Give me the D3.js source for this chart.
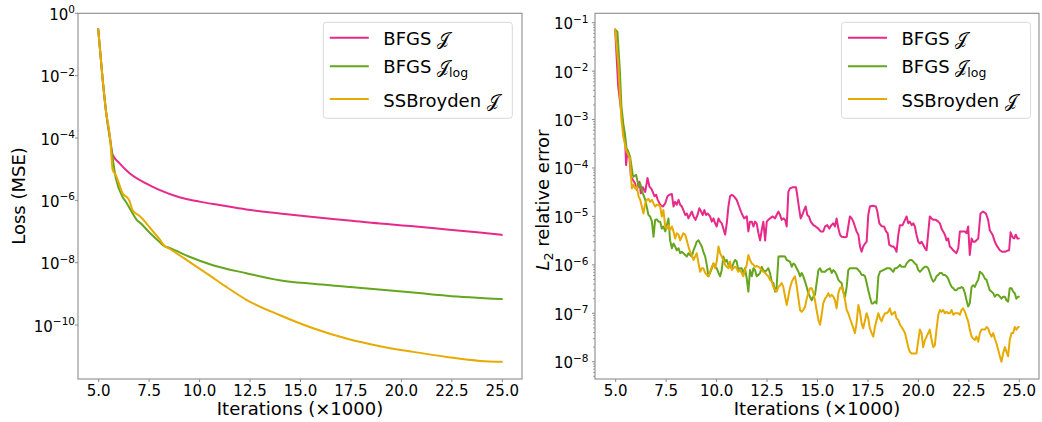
<!DOCTYPE html>
<html><head><meta charset="utf-8">
<script src="https://cdn.jsdelivr.net/npm/d3@7"></script>
<style>
body{margin:0;background:#fff}
svg{display:block}
text{font-family:"DejaVu Sans",sans-serif;fill:#000}
</style>
</head><body>
<svg id="chart" width="1042" height="422"></svg>
<script>
// ---------- categories / tick labels ----------
const xTickValues = [5, 7.5, 10, 12.5, 15, 17.5, 20, 22.5, 25];
const xTickLabels = ["5.0","7.5","10.0","12.5","15.0","17.5","20.0","22.5","25.0"];
const lossTickExponents = [0, -2, -4, -6, -8, -10];
const errTickExponents = [-1, -2, -3, -4, -5, -6, -7, -8];
const legendNames = ["BFGS ", "BFGS ", "SSBroyden "];
const legendSubs = ["", "log", ""];
const seriesColors = ["#e7298a", "#66a61e", "#e6ab02"];

// ---------- left panel: Loss (MSE), [iterations x1000, value] ----------
const lossBfgs = [[5.0,0.316],[5.21,9.1e-3],[5.38,7.9e-4],[5.6,8.7e-5],[5.71,3.0e-5],[6.04,1.6e-5],[6.54,7.6e-6],[7.37,3.5e-6],[8.0,2.2e-6],[9.02,1.26e-6],
  [10.02,9.1e-7],[11.0,7.1e-7],[12.34,5.1e-7],[14.0,3.8e-7],[15.65,2.9e-7],[17.3,2.3e-7],[18.96,1.8e-7],[20.61,1.48e-7],[22.27,1.17e-7],[23.9,9.3e-8],[25.0,7.8e-8]];
const lossBfgsLog = [[5.0,0.316],[5.21,9.1e-3],[5.38,7.9e-4],[5.6,7.9e-5],[5.88,5.0e-6],[6.21,1.29e-6],[6.38,8.9e-7],[6.70,3.9e-7],[6.95,2.2e-7],[7.04,2.0e-7],
  [7.53,9.5e-8],[8.03,4.7e-8],[8.28,3.4e-8],[8.53,3.0e-8],[9.52,1.55e-8],[10.68,8.3e-9],[12.34,4.6e-9],[13.98,2.75e-9],[15.65,2.1e-9],[17.3,1.7e-9],
  [20.61,1.1e-9],[22.27,8.7e-10],[25.0,6.8e-10]];
const lossSsb = [[5.0,0.316],[5.21,9.1e-3],[5.38,7.9e-4],[5.6,8.7e-5],[5.71,1.0e-5],[5.88,6.3e-6],[6.21,1.7e-6],[6.54,1.0e-6],[6.70,4.9e-7],[7.04,3.2e-7],
  [7.37,1.9e-7],[7.53,1.4e-7],[8.03,5.8e-8],[8.28,3.5e-8],[8.53,2.8e-8],[9.52,1.07e-8],[10.5,4.0e-9],[11.33,1.7e-9],[12.32,6.6e-10],[13.98,2.1e-10],
  [15.65,7.9e-11],[17.3,3.7e-11],[18.96,2.1e-11],[20.61,1.38e-11],[22.27,9.5e-12],[23.93,7.1e-12],[25.0,6.6e-12]];

// ---------- right panel: L2 relative error, [iterations x1000, value] ----------
const errBfgs = [
  [5.0,7.2e-2],[5.15,4.8e-3],[5.35,1.0e-3],[5.50,3.2e-4],[5.54,1.15e-4],[5.61,2.3e-4],[5.71,1.6e-4],[5.78,6.6e-5],[5.99,4.8e-5],[6.07,3.5e-5],
  [6.20,5.2e-5],[6.27,3.0e-5],[6.37,4.0e-5],[6.49,3.2e-5],[6.60,6.2e-5],[6.70,4.1e-5],[6.78,3.8e-5],[6.86,3.2e-5],[6.95,2.6e-5],[7.03,2.8e-5],
  [7.11,2.2e-5],[7.23,1.74e-5],[7.36,1.6e-5],[7.48,1.86e-5],[7.59,2.6e-5],[7.69,2.8e-5],[7.81,2.9e-5],[7.89,1.6e-5],[7.97,2.0e-5],[8.05,1.74e-5],
  [8.14,2.2e-5],[8.22,1.74e-5],[8.30,1.6e-5],[8.38,1.35e-5],[8.47,1.07e-5],[8.55,1.15e-5],[8.63,9.1e-6],[8.71,1.07e-5],[8.80,1.26e-5],[8.88,1.0e-5],
  [8.98,8.5e-6],[9.08,1.07e-5],[9.17,1.48e-5],[9.26,1.26e-5],[9.34,1.07e-5],[9.42,1.35e-5],[9.50,1.07e-5],[9.59,1.15e-5],[9.70,1.0e-5],[9.79,7.8e-6],
  [9.87,9.1e-6],[9.95,7.2e-6],[10.03,6.2e-6],[10.12,9.1e-6],[10.20,7.8e-6],[10.28,7.2e-6],[10.36,5.6e-6],[10.45,4.2e-6],[10.53,7.2e-6],[10.61,1.6e-5],
  [10.69,2.6e-5],[10.78,2.8e-5],[10.89,2.6e-5],[11.02,2.2e-5],[11.14,1.6e-5],[11.27,1.15e-5],[11.39,9.1e-6],[11.52,1.0e-5],[11.60,4.9e-6],[11.68,7.8e-6],
  [11.77,7.8e-6],[11.85,6.2e-6],[11.93,7.8e-6],[12.01,7.2e-6],[12.10,4.5e-6],[12.18,3.2e-6],[12.26,5.2e-6],[12.34,7.8e-6],[12.43,3.2e-6],[12.51,7.8e-6],
  [12.59,8.5e-6],[12.67,9.1e-6],[12.81,1.0e-5],[12.92,9.1e-6],[13.00,1.07e-5],[13.09,1.26e-5],[13.17,1.07e-5],[13.25,8.5e-6],[13.33,9.1e-6],[13.42,8.5e-6],
  [13.50,6.2e-6],[13.58,3.2e-5],[13.66,3.8e-5],[13.80,4.0e-5],[13.96,4.0e-5],[14.03,2.6e-5],[14.11,1.48e-5],[14.19,9.1e-6],[14.27,1.07e-5],[14.36,1.35e-5],
  [14.44,1.6e-5],[14.52,1.07e-5],[14.60,1.0e-5],[14.69,7.8e-6],[14.82,6.6e-6],[14.93,6.2e-6],[15.07,5.6e-6],[15.18,4.9e-6],[15.31,4.9e-6],[15.40,6.2e-6],
  [15.51,6.6e-6],[15.61,5.6e-6],[15.71,6.6e-6],[15.81,7.2e-6],[15.89,6.2e-6],[15.97,9.1e-6],[16.06,5.6e-6],[16.14,4.2e-6],[16.22,3.8e-6],[16.39,3.7e-6],
  [16.47,3.8e-6],[16.55,6.2e-6],[16.63,1.0e-5],[16.72,9.1e-6],[16.80,7.8e-6],[16.88,6.2e-6],[16.96,4.9e-6],[17.05,4.2e-6],[17.13,2.4e-6],[17.21,1.86e-6],
  [17.29,2.4e-6],[17.38,2.75e-6],[17.46,3.0e-6],[17.54,1.07e-5],[17.62,1.6e-5],[17.76,1.66e-5],[17.92,1.6e-5],[17.99,1.26e-5],[18.09,7.2e-6],[18.20,6.3e-6],
  [18.32,6.2e-6],[18.42,4.9e-6],[18.50,4.5e-6],[18.58,2.6e-6],[18.70,2.4e-6],[18.78,2.4e-6],[18.86,2.2e-6],[18.94,1.86e-6],[19.03,4.2e-6],[19.11,6.6e-6],
  [19.24,6.6e-6],[19.36,8.5e-6],[19.44,1.0e-5],[19.52,7.2e-6],[19.60,7.8e-6],[19.69,6.6e-6],[19.77,7.2e-6],[19.85,6.2e-6],[19.93,4.2e-6],[20.02,3.0e-6],
  [20.10,2.75e-6],[20.18,3.0e-6],[20.26,2.6e-6],[20.35,2.2e-6],[20.43,2.0e-6],[20.51,4.5e-6],[20.59,1.0e-5],[20.68,9.1e-6],[20.76,8.5e-6],[20.89,8.5e-6],
  [21.01,7.8e-6],[21.09,7.2e-6],[21.17,5.6e-6],[21.25,4.9e-6],[21.34,4.2e-6],[21.42,3.2e-6],[21.50,3.5e-6],[21.58,2.4e-6],[21.67,2.2e-6],[21.75,2.0e-6],
  [21.83,1.86e-6],[21.91,1.74e-6],[22.00,2.2e-6],[22.08,4.9e-6],[22.21,4.9e-6],[22.33,4.9e-6],[22.41,4.5e-6],[22.49,6.2e-6],[22.57,1.6e-6],[22.66,3.5e-6],
  [22.74,3.0e-6],[22.82,3.0e-6],[22.90,3.2e-6],[22.99,3.5e-6],[23.10,1.15e-5],[23.23,1.26e-5],[23.37,1.15e-5],[23.48,8.5e-6],[23.56,5.2e-6],[23.70,4.2e-6],
  [23.81,3.0e-6],[23.93,2.4e-6],[24.06,2.0e-6],[24.17,1.86e-6],[24.31,1.86e-6],[24.42,1.95e-6],[24.52,2.0e-6],[24.59,4.7e-6],[24.69,3.7e-6],[24.77,3.5e-6],
  [24.85,4.2e-6],[24.93,3.5e-6],[25.0,3.5e-6]];
const errBfgsLog = [
  [5.0,7.2e-2],[5.11,6.5e-2],[5.23,1.05e-2],[5.31,1.86e-3],[5.40,8.3e-4],[5.48,5.2e-4],[5.56,2.6e-4],[5.64,2.2e-4],[5.74,1.7e-4],[5.87,7.2e-5],
  [5.91,6.6e-5],[6.04,7.2e-5],[6.16,4.1e-5],[6.24,4.8e-5],[6.37,3.0e-5],[6.49,2.2e-5],[6.65,1.07e-5],[6.73,1.0e-5],[6.82,7.8e-6],[6.90,3.8e-6],
  [6.98,8.5e-6],[7.06,8.7e-6],[7.15,7.8e-6],[7.23,7.8e-6],[7.31,5.6e-6],[7.39,6.2e-6],[7.48,4.9e-6],[7.56,6.6e-6],[7.64,9.1e-6],[7.72,3.2e-6],
  [7.81,2.2e-6],[7.89,2.75e-6],[7.97,2.4e-6],[8.05,2.0e-6],[8.14,2.2e-6],[8.22,1.74e-6],[8.30,1.86e-6],[8.38,1.74e-6],[8.47,1.6e-6],[8.55,1.48e-6],
  [8.63,1.74e-6],[8.71,1.6e-6],[8.80,1.48e-6],[8.88,2.0e-6],[8.96,2.4e-6],[9.04,3.0e-6],[9.13,3.2e-6],[9.21,2.75e-6],[9.29,2.4e-6],[9.37,1.86e-6],
  [9.46,1.48e-6],[9.54,1.0e-6],[9.62,5.8e-7],[9.70,6.8e-7],[9.79,8.5e-7],[9.87,1.07e-6],[9.95,9.1e-7],[10.03,8.5e-7],[10.12,6.8e-7],[10.20,5.8e-7],
  [10.28,7.8e-7],[10.36,1.48e-6],[10.45,1.17e-6],[10.53,1.26e-6],[10.61,1.0e-6],[10.69,9.1e-7],[10.78,8.5e-7],[10.86,1.07e-6],[10.94,1.26e-6],[11.02,1.17e-6],
  [11.10,7.8e-7],[11.18,8.5e-7],[11.27,8.5e-7],[11.35,6.8e-7],[11.43,8.5e-7],[11.52,5.2e-7],[11.60,2.8e-7],[11.68,7.8e-7],[11.77,5.8e-7],[11.85,8.5e-7],
  [11.93,7.8e-7],[12.01,5.8e-7],[12.10,6.2e-7],[12.18,6.8e-7],[12.26,9.1e-7],[12.34,7.8e-7],[12.43,7.2e-7],[12.51,7.8e-7],[12.59,8.5e-7],[12.67,6.8e-7],
  [12.76,4.5e-7],[12.84,4.2e-7],[12.92,2.8e-7],[13.00,3.5e-7],[13.09,1.48e-6],[13.25,1.5e-6],[13.42,1.48e-6],[13.50,1.26e-6],[13.66,1.17e-6],[13.75,9.1e-7],
  [13.83,1.07e-6],[13.91,1.0e-6],[13.99,8.5e-7],[14.08,7.2e-7],[14.16,5.8e-7],[14.24,6.8e-7],[14.32,5.8e-7],[14.41,4.5e-7],[14.49,3.5e-7],[14.57,2.6e-7],
  [14.65,2.2e-7],[14.74,1.86e-7],[14.82,2.2e-7],[14.90,2.4e-7],[14.98,4.2e-7],[15.07,7.8e-7],[15.15,8.5e-7],[15.23,7.2e-7],[15.40,7.2e-7],[15.48,7.8e-7],
  [15.64,8.5e-7],[15.73,6.8e-7],[15.81,7.8e-7],[15.89,7.2e-7],[15.97,6.2e-7],[16.06,4.9e-7],[16.14,4.5e-7],[16.22,4.2e-7],[16.30,2.8e-7],[16.39,2.2e-7],
  [16.47,3.5e-7],[16.55,7.8e-7],[16.63,8.5e-7],[16.80,8.5e-7],[16.96,8.5e-7],[17.05,7.8e-7],[17.13,7.2e-7],[17.21,6.2e-7],[17.29,6.2e-7],[17.38,5.8e-7],
  [17.46,4.2e-7],[17.54,3.0e-7],[17.62,2.2e-7],[17.71,1.6e-7],[17.79,1.6e-7],[17.87,1.74e-7],[17.95,1.6e-7],[18.04,5.8e-7],[18.12,7.2e-7],[18.28,7.8e-7],
  [18.45,8.5e-7],[18.61,8.5e-7],[18.70,7.8e-7],[18.78,7.2e-7],[18.86,8.5e-7],[18.94,8.5e-7],[19.03,9.1e-7],[19.11,1.0e-6],[19.19,9.1e-7],[19.36,9.1e-7],
  [19.44,1.07e-6],[19.52,1.17e-6],[19.60,1.26e-6],[19.69,1.26e-6],[19.77,1.17e-6],[19.85,1.07e-6],[19.93,1.0e-6],[20.02,7.8e-7],[20.10,7.2e-7],[20.18,7.8e-7],
  [20.26,8.5e-7],[20.35,9.1e-7],[20.43,9.1e-7],[20.51,8.5e-7],[20.59,6.8e-7],[20.68,5.2e-7],[20.76,4.5e-7],[20.84,4.9e-7],[20.92,5.8e-7],[21.01,6.2e-7],
  [21.09,6.8e-7],[21.17,6.8e-7],[21.25,6.2e-7],[21.34,6.2e-7],[21.42,5.8e-7],[21.50,5.2e-7],[21.58,4.2e-7],[21.67,3.5e-7],[21.75,3.3e-7],[21.83,3.0e-7],
  [21.91,3.0e-7],[22.00,3.3e-7],[22.08,3.3e-7],[22.16,3.5e-7],[22.24,3.3e-7],[22.33,2.6e-7],[22.41,1.86e-7],[22.49,1.38e-7],[22.57,1.6e-7],[22.66,3.5e-7],
  [22.74,3.8e-7],[22.82,3.5e-7],[22.90,4.2e-7],[22.99,4.9e-7],[23.07,7.2e-7],[23.15,6.8e-7],[23.23,6.2e-7],[23.32,5.2e-7],[23.40,4.9e-7],[23.48,3.8e-7],
  [23.56,3.0e-7],[23.65,2.8e-7],[23.73,2.6e-7],[23.81,2.2e-7],[23.89,2.4e-7],[23.98,2.4e-7],[24.06,2.2e-7],[24.14,2.0e-7],[24.22,2.2e-7],[24.31,2.2e-7],
  [24.39,1.86e-7],[24.47,1.74e-7],[24.55,3.3e-7],[24.64,3.3e-7],[24.72,2.8e-7],[24.80,2.6e-7],[24.88,2.0e-7],[24.97,2.2e-7],[25.0,2.2e-7]];
const errSsb = [
  [5.0,7.2e-2],[5.15,1.45e-2],[5.23,3.5e-3],[5.31,9.8e-4],[5.40,4.5e-4],[5.56,2.2e-4],[5.73,1.6e-4],[5.78,6.6e-5],[5.83,3.8e-5],[5.91,4.5e-5],
  [5.99,3.8e-5],[6.07,4.1e-5],[6.16,2.6e-5],[6.24,2.2e-5],[6.32,1.6e-5],[6.40,1.15e-5],[6.49,1.86e-5],[6.57,2.2e-5],[6.65,2.3e-5],[6.73,2.0e-5],
  [6.82,2.2e-5],[6.90,1.86e-5],[6.98,1.6e-5],[7.06,1.74e-5],[7.15,1.74e-5],[7.23,1.6e-5],[7.31,1.0e-5],[7.39,1.35e-5],[7.48,6.2e-6],[7.56,5.6e-6],
  [7.64,6.6e-6],[7.72,5.2e-6],[7.81,6.2e-6],[7.89,4.9e-6],[7.97,3.5e-6],[8.05,4.5e-6],[8.14,4.2e-6],[8.22,3.2e-6],[8.30,3.8e-6],[8.38,4.5e-6],
  [8.47,4.2e-6],[8.55,3.2e-6],[8.63,2.4e-6],[8.71,1.86e-6],[8.80,1.6e-6],[8.88,1.26e-6],[8.96,1.48e-6],[9.04,1.74e-6],[9.13,1.07e-6],[9.21,7.2e-7],
  [9.29,8.5e-7],[9.37,8.5e-7],[9.46,6.8e-7],[9.54,6.2e-7],[9.62,5.8e-7],[9.70,7.2e-7],[9.79,9.1e-7],[9.87,1.07e-6],[9.95,8.5e-7],[10.03,1.17e-6],
  [10.12,2.4e-6],[10.20,1.74e-6],[10.28,1.48e-6],[10.36,1.26e-6],[10.45,1.0e-6],[10.53,9.1e-7],[10.61,8.5e-7],[10.69,1.17e-6],[10.78,7.8e-7],[10.86,8.5e-7],
  [10.94,9.1e-7],[11.02,8.5e-7],[11.10,7.2e-7],[11.18,7.8e-7],[11.27,6.8e-7],[11.35,5.8e-7],[11.43,7.8e-7],[11.52,1.0e-6],[11.60,1.6e-6],[11.68,1.26e-6],
  [11.77,1.07e-6],[11.85,1.0e-6],[11.93,9.1e-7],[12.01,9.5e-7],[12.10,9.1e-7],[12.18,8.5e-7],[12.26,7.8e-7],[12.34,7.2e-7],[12.43,6.8e-7],[12.51,6.2e-7],
  [12.59,5.8e-7],[12.67,4.9e-7],[12.76,4.5e-7],[12.84,3.5e-7],[12.92,3.0e-7],[13.00,2.8e-7],[13.09,3.5e-7],[13.17,3.8e-7],[13.25,4.2e-7],[13.33,3.5e-7],
  [13.42,2.2e-7],[13.50,1.48e-7],[13.58,2.2e-7],[13.66,3.3e-7],[13.75,4.5e-7],[13.83,5.2e-7],[13.91,5.8e-7],[13.99,3.8e-7],[14.08,2.0e-7],[14.16,1.17e-7],
  [14.24,1.07e-7],[14.32,1.17e-7],[14.41,1.38e-7],[14.49,2.0e-7],[14.57,2.6e-7],[14.65,3.3e-7],[14.74,3.3e-7],[14.82,2.6e-7],[14.90,1.86e-7],[14.98,1.17e-7],
  [15.07,7.2e-8],[15.15,5.8e-8],[15.23,9.3e-8],[15.31,1.6e-7],[15.40,2.0e-7],[15.48,2.2e-7],[15.56,2.6e-7],[15.64,2.2e-7],[15.73,2.4e-7],[15.81,2.2e-7],
  [15.89,1.86e-7],[15.97,1.26e-7],[16.06,2.6e-7],[16.14,3.3e-7],[16.22,3.5e-7],[16.30,2.8e-7],[16.39,1.86e-7],[16.47,1.17e-7],[16.55,1.0e-7],[16.63,7.9e-8],
  [16.72,6.2e-8],[16.80,4.9e-8],[16.88,3.9e-8],[16.96,6.2e-8],[17.05,1.48e-7],[17.13,1.07e-7],[17.21,6.2e-8],[17.29,4.9e-8],[17.38,7.2e-8],[17.46,1.0e-7],
  [17.54,7.9e-8],[17.62,4.9e-8],[17.71,3.9e-8],[17.79,3.3e-8],[17.87,5.2e-8],[17.95,7.2e-8],[18.04,1.0e-7],[18.12,7.9e-8],[18.20,6.8e-8],[18.28,8.5e-8],
  [18.37,1.0e-7],[18.45,1.0e-7],[18.53,1.07e-7],[18.61,1.26e-7],[18.70,9.3e-8],[18.78,1.0e-7],[18.86,1.07e-7],[18.94,7.9e-8],[19.03,7.2e-8],[19.11,5.8e-8],
  [19.19,5.2e-8],[19.27,4.6e-8],[19.36,3.9e-8],[19.44,2.8e-8],[19.52,2.0e-8],[19.60,1.6e-8],[19.69,1.48e-8],[19.93,1.48e-8],[20.02,2.8e-8],[20.10,4.6e-8],
  [20.18,3.9e-8],[20.26,2.0e-8],[20.35,2.8e-8],[20.43,3.3e-8],[20.51,3.9e-8],[20.59,4.6e-8],[20.68,2.8e-8],[20.76,2.0e-8],[20.84,2.2e-8],[20.92,4.6e-8],
  [21.01,9.3e-8],[21.09,1.17e-7],[21.17,1.07e-7],[21.25,1.17e-7],[21.34,1.0e-7],[21.42,1.07e-7],[21.50,1.0e-7],[21.58,1.0e-7],[21.67,1.17e-7],[21.75,9.3e-8],
  [21.83,1.0e-7],[22.00,1.0e-7],[22.08,9.3e-8],[22.16,1.17e-7],[22.24,1.26e-7],[22.33,1.07e-7],[22.41,8.5e-8],[22.49,6.8e-8],[22.57,4.6e-8],[22.66,3.3e-8],
  [22.74,3.0e-8],[22.82,2.8e-8],[22.90,3.3e-8],[22.99,2.6e-8],[23.07,3.9e-8],[23.15,4.6e-8],[23.32,4.6e-8],[23.40,5.2e-8],[23.48,4.9e-8],[23.56,3.9e-8],
  [23.65,3.3e-8],[23.73,3.9e-8],[23.81,3.0e-8],[23.89,2.4e-8],[23.98,1.74e-8],[24.06,1.3e-8],[24.14,1.0e-8],[24.22,1.48e-8],[24.31,2.0e-8],[24.39,1.6e-8],
  [24.47,1.3e-8],[24.55,2.8e-8],[24.64,3.9e-8],[24.72,3.9e-8],[24.80,5.2e-8],[24.88,4.6e-8],[24.97,5.2e-8],[25.0,5.2e-8]];

// ---------- drawing ----------
const svg = d3.select("#chart");
const FRAME = "#8c8c8c";

function drawPanel(cfg) {
  const x = d3.scaleLinear().domain([4, 26]).range([cfg.left, cfg.right]);
  const y = d3.scaleLog().domain(cfg.yDomain).range([cfg.bottom, cfg.top]);
  const g = svg.append("g");

  const line = d3.line().x(d => x(d[0])).y(d => y(d[1])).curve(cfg.curve);
  cfg.series.forEach((s, i) => {
    g.append("path").attr("d", line(s)).attr("fill", "none")
      .attr("stroke", seriesColors[i]).attr("stroke-width", 2)
      .attr("stroke-linejoin", "round").attr("stroke-linecap", "round");
  });

  // frame
  g.append("rect").attr("x", cfg.left).attr("y", cfg.top)
    .attr("width", cfg.right - cfg.left).attr("height", cfg.bottom - cfg.top)
    .attr("fill", "none").attr("stroke", FRAME).attr("stroke-width", 1.1);

  // x axis
  const xa = g.append("g").attr("transform", `translate(0,${cfg.bottom})`)
    .call(d3.axisBottom(x).tickValues(xTickValues)
      .tickFormat((d, i) => xTickLabels[i]).tickSize(3).tickPadding(4));
  xa.select(".domain").remove();
  xa.selectAll(".tick line").attr("stroke", FRAME);
  xa.selectAll(".tick text").attr("y", 16.5).attr("dy", 0)
    .style("font-size", "15px").style("font-family", "DejaVu Sans").attr("fill", "#000");

  // y axis: minor ticks
  const [lo, hi] = cfg.yDomain;
  const minor = [];
  for (let k = Math.floor(Math.log10(lo)); k <= Math.ceil(Math.log10(hi)); k++) {
    cfg.minorMults.forEach(m => { const v = m * Math.pow(10, k); if (v >= lo && v <= hi) minor.push(v); });
  }
  g.selectAll(".minor").data(minor).join("line").attr("class", "minor")
    .attr("x1", cfg.left).attr("x2", cfg.left - 2)
    .attr("y1", d => y(d)).attr("y2", d => y(d))
    .attr("stroke", FRAME).attr("stroke-width", 0.8);

  // y axis: major ticks with 10^k labels
  cfg.exps.forEach(k => {
    const yy = y(Math.pow(10, k));
    g.append("line").attr("x1", cfg.left).attr("x2", cfg.left - 3)
      .attr("y1", yy).attr("y2", yy).attr("stroke", FRAME);
    const t = g.append("text").attr("x", cfg.left - cfg.labelGap).attr("y", yy + 6.5)
      .attr("text-anchor", "end").style("font-size", "15px");
    t.append("tspan").text("10");
    t.append("tspan").attr("dy", -6.5).style("font-size", "10.5px")
      .text(k === 0 ? "0" : "\u2212" + Math.abs(k));
  });

  // x axis title
  g.append("text").attr("x", (cfg.left + cfg.right) / 2).attr("y", 414.5)
    .attr("text-anchor", "middle").style("font-size", "18px").text("Iterations (\u00d71000)");

  // y axis title
  const yt = g.append("text").attr("transform", `translate(${cfg.yTitleX},${cfg.yTitleY}) rotate(-90)`)
    .attr("text-anchor", "middle").style("font-size", "18px");
  cfg.yTitle(yt);

  // legend
  const lg = g.append("g");
  lg.append("rect").attr("x", cfg.legendX).attr("y", 22.3).attr("width", 189).attr("height", 96)
    .attr("rx", 3).attr("fill", "#fff").attr("fill-opacity", 0.8)
    .attr("stroke", "#d9d9d9").attr("stroke-width", 1);
  const rowLine = [37.7, 66.3, 99];
  const rowBase = [45, 73.3, 106.7];
  legendNames.forEach((name, i) => {
    lg.append("line").attr("x1", cfg.legendX + 6.5).attr("x2", cfg.legendX + 45.5)
      .attr("y1", rowLine[i]).attr("y2", rowLine[i])
      .attr("stroke", seriesColors[i]).attr("stroke-width", 2);
    const t = lg.append("text").attr("x", cfg.legendX + 60).attr("y", rowBase[i]).style("font-size", "18px");
    t.append("tspan").text(name);
    t.append("tspan").text("\ud835\udca5");
    if (legendSubs[i]) t.append("tspan").attr("dy", 4).style("font-size", "12.5px").text(legendSubs[i]);
  });
}

drawPanel({
  left: 78, right: 522, top: 13.3, bottom: 379,
  yDomain: [Math.pow(10, -11.73), 1],
  exps: lossTickExponents, minorMults: [],
  labelGap: 3,
  curve: d3.curveMonotoneX,
  series: [lossBfgs, lossBfgsLog, lossSsb],
  yTitleX: 25, yTitleY: 196,
  yTitle: t => t.text("Loss (MSE)"),
  legendX: 323.3
});

drawPanel({
  left: 595, right: 1039, top: 13.3, bottom: 379,
  yDomain: [Math.pow(10, -8.357), Math.pow(10, -0.806)],
  exps: errTickExponents, minorMults: [2,3,4,5,6,7,8,9],
  labelGap: 6.5,
  curve: d3.curveLinear,
  series: [errBfgs, errBfgsLog, errSsb],
  yTitleX: 549, yTitleY: 200,
  yTitle: t => {
    t.append("tspan").style("font-style", "italic").text("L");
    t.append("tspan").attr("dy", 4).style("font-size", "12.5px").text("2");
    t.append("tspan").attr("dy", -4).text(" relative error");
  },
  legendX: 841.5
});
</script>
</body></html>
